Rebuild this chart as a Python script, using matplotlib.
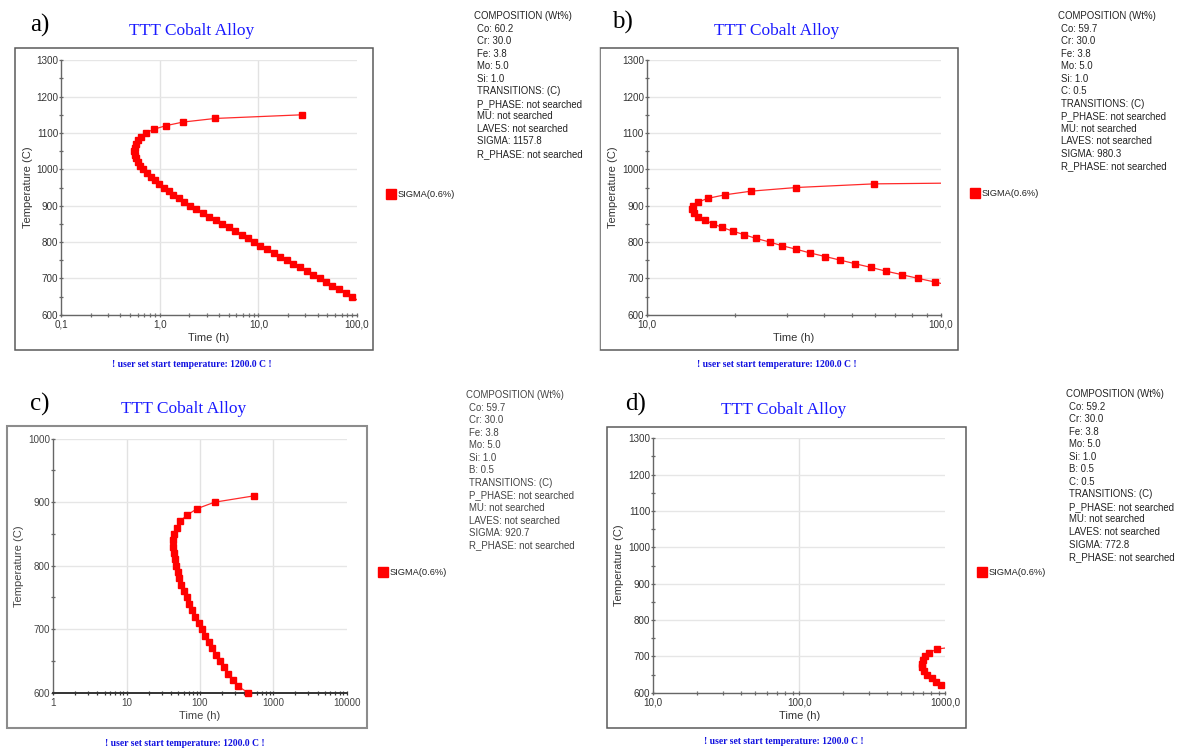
import matplotlib
matplotlib.use("Agg")
import matplotlib.pyplot as plt
from matplotlib.patches import Rectangle
from matplotlib.lines import Line2D
from matplotlib.ticker import (FixedLocator, FixedFormatter, LogLocator,
                               NullFormatter, MultipleLocator)

plt.rcParams["font.family"] = ["Liberation Sans", "DejaVu Sans"]

W, H = 1177, 751

# ---------------- data: sigma (0.6 %) start curves ----------------
TEMP_A = [1150, 1140, 1130, 1120, 1110, 1100, 1090, 1080, 1070, 1060, 1050,
          1040, 1030, 1020, 1010, 1000, 990, 980, 970, 960, 950, 940, 930,
          920, 910, 900, 890, 880, 870, 860, 850, 840, 830, 820, 810, 800,
          790, 780, 770, 760, 750, 740, 730, 720, 710, 700, 690, 680, 670,
          660, 650, 630]
TIME_A = [27.5, 3.65, 1.72, 1.15, 0.87, 0.72, 0.64, 0.60, 0.575, 0.56, 0.555,
          0.56, 0.575, 0.60, 0.635, 0.68, 0.74, 0.81, 0.90, 0.99, 1.10, 1.23,
          1.38, 1.56, 1.77, 2.02, 2.35, 2.74, 3.18, 3.71, 4.32, 5.02, 5.85,
          6.81, 7.93, 9.0, 10.5, 12.3, 14.3, 16.6, 19.5, 22.6, 26.3, 30.9,
          35.9, 41.7, 49.0, 56.2, 66.0, 76.7, 89.0, 115.0]

TEMP_B = [963, 960, 950, 940, 930, 920, 910, 900, 890, 880, 870, 860, 850,
          840, 830, 820, 810, 800, 790, 780, 770, 760, 750, 740, 730, 720,
          710, 700, 690, 680]
TIME_B = [140, 59.3, 32.3, 22.7, 18.5, 16.1, 15.0, 14.4, 14.3, 14.5, 15.0,
          15.8, 16.8, 18.1, 19.6, 21.5, 23.5, 26.2, 28.8, 32.3, 35.9, 40.5,
          45.6, 51.3, 58.0, 65.0, 73.9, 83.7, 95.5, 108]

TEMP_C = [910, 900, 890, 880, 870, 860, 850, 840, 830, 820, 810, 800, 790,
          780, 770, 760, 750, 740, 730, 720, 710, 700, 690, 680, 670, 660,
          650, 640, 630, 620, 610, 600]
TIME_C = [545, 158, 92, 67, 53.4, 48, 44.7, 43.3, 43.3, 44.2, 45.7, 47.1,
          49.6, 52.3, 55.6, 60.5, 65.8, 71.6, 78.6, 86.3, 95.9, 106, 118, 131,
          147, 165, 187, 212, 241, 279, 330, 455]

TEMP_D = [726, 720, 710, 700, 690, 680, 670, 660, 650, 640, 630, 620, 612]
TIME_D = [1150, 873, 777, 726, 699, 689, 692, 718, 753, 805, 859, 929, 1080]

XTICKS_A = [0.1, 1, 10, 100]
XLABELS_A = ["0,1", "1,0", "10,0", "100,0"]
XTICKS_B = [10, 100]
XLABELS_B = ["10,0", "100,0"]
XTICKS_C = [1, 10, 100, 1000, 10000]
XLABELS_C = ["1", "10", "100", "1000", "10000"]
XTICKS_D = [10, 100, 1000]
XLABELS_D = ["10,0", "100,0", "1000,0"]

COMMON_TAIL = ["TRANSITIONS: (C)", "P_PHASE: not searched", "MU: not searched",
               "LAVES: not searched"]
COMP_A = ["Co: 60.2", "Cr: 30.0", "Fe: 3.8", "Mo: 5.0", "Si: 1.0"]
COMP_B = ["Co: 59.7", "Cr: 30.0", "Fe: 3.8", "Mo: 5.0", "Si: 1.0", "C: 0.5"]
COMP_C = ["Co: 59.7", "Cr: 30.0", "Fe: 3.8", "Mo: 5.0", "Si: 1.0", "B: 0.5"]
COMP_D = ["Co: 59.2", "Cr: 30.0", "Fe: 3.8", "Mo: 5.0", "Si: 1.0", "B: 0.5",
          "C: 0.5"]
SIGMA_A, SIGMA_B, SIGMA_C, SIGMA_D = "1157.8", "980.3", "920.7", "772.8"

TITLE = "TTT Cobalt Alloy"
FOOTER = "! user set start temperature: 1200.0 C !"
LEGEND = "SIGMA(0.6%)"

fig = plt.figure(figsize=(W / 100, H / 100), dpi=100)
fig.patch.set_facecolor("white")


def fx(x):
    return x / W


def fy(y):
    return 1 - y / H


def ftext(x, y, s, **kw):
    return fig.text(fx(x), fy(y), s, **kw)


def draw_panel(p):
    # outer frame of the panel
    x0, y0, x1, y1 = p["frame"]
    fig.add_artist(Rectangle((fx(x0), fy(y1)), (x1 - x0) / W, (y1 - y0) / H,
                             transform=fig.transFigure, fill=False,
                             edgecolor=p["frame_color"], lw=p["frame_lw"]))
    # letter and title
    ftext(p["letter_xy"][0], p["letter_xy"][1], p["letter"],
          family="Liberation Serif", fontsize=18, va="center", ha="left")
    ftext(p["title_xy"][0], p["title_xy"][1], TITLE,
          family="Liberation Serif", fontsize=12.5, color="#1a1aff",
          ha="center", va="baseline")
    ftext(p["footer_xy"][0], p["footer_xy"][1], FOOTER,
          family="Liberation Serif", fontsize=6.9, fontweight="bold",
          color="#1010e0", ha="center", va="center")

    # plot area
    a0, b0, a1, b1 = p["axes"]
    ax = fig.add_axes([fx(a0), fy(b1), (a1 - a0) / W, (b1 - b0) / H])
    ax.set_xscale("log")
    ax.set_xlim(p["xlim"])
    ax.set_ylim(p["ylim"])
    ax.patch.set_alpha(0)
    ax.plot(p["time"], p["temp"], color="#ff2a2a", lw=0.9, marker="s",
            ms=4.2, mfc="#ff0000", mec="#ff0000", zorder=3,
            clip_on=p["clip"])

    for s in ("top", "right"):
        ax.spines[s].set_visible(False)
    ax.spines["left"].set_color(p["spine"])
    ax.spines["bottom"].set_color(p["xspine"])
    ax.spines["left"].set_linewidth(1.0)
    ax.spines["bottom"].set_linewidth(p["xspine_lw"])

    ax.yaxis.set_major_locator(MultipleLocator(100))
    ax.yaxis.set_minor_locator(MultipleLocator(50))
    ax.xaxis.set_major_locator(FixedLocator(p["xticks"]))
    ax.xaxis.set_major_formatter(FixedFormatter(p["xlabels"]))
    ax.xaxis.set_minor_locator(LogLocator(base=10, subs=range(2, 10),
                                          numticks=50))
    ax.xaxis.set_minor_formatter(NullFormatter())
    ax.tick_params(which="both", direction="inout", length=3.4, width=0.9,
                   color=p["spine"], labelsize=7.1, labelcolor=p["tick_color"])
    ax.tick_params(axis="x", which="both", color=p["xspine"], pad=1.8)
    ax.tick_params(axis="y", which="both", pad=0.4)

    ax.grid(axis="y", which="major", color="#e6e6e6", lw=1.0, zorder=0)
    for xv in p["xticks"][1:-1]:
        ax.axvline(xv, color="#e2e2e2", lw=1.0, zorder=0)
    ax.set_axisbelow(True)

    # axis titles
    ftext(p["ylabel_x"], (b0 + b1) / 2, "Temperature (C)", fontsize=8,
          color=p["tick_color"], rotation=90, ha="center", va="center")
    ftext((a0 + a1) / 2, p["xlabel_y"], "Time (h)", fontsize=8,
          color=p["tick_color"], ha="center", va="center")

    # legend entry
    lx, ly = p["legend_xy"]
    fig.add_artist(Line2D([fx(lx)], [fy(ly)], marker="s", ms=7.2,
                          color="#ff0000", transform=fig.transFigure))
    ftext(lx + 7, ly + 0.5, LEGEND, fontsize=6.7, color="#222",
          ha="left", va="center")

    # composition block
    cx, cy = p["comp_xy"]
    lines = (["COMPOSITION (Wt%)"] + p["comp"] + COMMON_TAIL
             + ["SIGMA: " + p["sigma"], "R_PHASE: not searched"])
    for i, line in enumerate(lines):
        indent = 0 if i == 0 else 3
        ftext(cx + indent, cy + i * 12.55, line, fontsize=6.9,
              color=p["text_color"], ha="left", va="center")
    return ax


panels = [
    dict(letter="a)", letter_xy=(30, 25), title_xy=(192, 35),
         footer_xy=(192, 365), frame=(15.3, 48.3, 373.3, 350),
         frame_color="#5a5a5a", frame_lw=1.1,
         axes=(61, 60.3, 357, 314.7), xlim=(0.1, 100), ylim=(600, 1300),
         time=TIME_A, temp=TEMP_A, clip=True,
         xticks=XTICKS_A, xlabels=XLABELS_A,
         spine="#666666", xspine="#666666", xspine_lw=1.0,
         tick_color="#333333", text_color="#222222",
         ylabel_x=28, xlabel_y=338, legend_xy=(391, 194),
         comp=COMP_A, sigma=SIGMA_A, comp_xy=(474, 16)),
    dict(letter="b)", letter_xy=(612, 22), title_xy=(777, 35),
         footer_xy=(777, 365), frame=(600, 48.3, 958.3, 350),
         frame_color="#5a5a5a", frame_lw=1.1,
         axes=(646.7, 60.3, 940.7, 314.7), xlim=(10, 100), ylim=(600, 1300),
         time=TIME_B, temp=TEMP_B, clip=True,
         xticks=XTICKS_B, xlabels=XLABELS_B,
         spine="#666666", xspine="#666666", xspine_lw=1.0,
         tick_color="#333333", text_color="#222222",
         ylabel_x=612.7, xlabel_y=338.3, legend_xy=(975, 193),
         comp=COMP_B, sigma=SIGMA_B, comp_xy=(1058, 16)),
    dict(letter="c)", letter_xy=(30, 404), title_xy=(184, 413),
         footer_xy=(185, 743), frame=(6.7, 425.7, 366.7, 728.3),
         frame_color="#8c8c8c", frame_lw=1.5,
         axes=(53.3, 438.7, 346.7, 692.7), xlim=(1, 10000), ylim=(600, 1000),
         time=TIME_C, temp=TEMP_C, clip=False,
         xticks=XTICKS_C, xlabels=XLABELS_C,
         spine="#666666", xspine="#333333", xspine_lw=1.4,
         tick_color="#444444", text_color="#444444",
         ylabel_x=19.3, xlabel_y=716, legend_xy=(383, 572),
         comp=COMP_C, sigma=SIGMA_C, comp_xy=(466, 395)),
    dict(letter="d)", letter_xy=(625, 404), title_xy=(784, 414),
         footer_xy=(784, 742), frame=(607.3, 426.7, 966, 727.7),
         frame_color="#5a5a5a", frame_lw=1.1,
         axes=(653.3, 438.3, 945.3, 692.7), xlim=(10, 1000), ylim=(600, 1300),
         time=TIME_D, temp=TEMP_D, clip=True,
         xticks=XTICKS_D, xlabels=XLABELS_D,
         spine="#666666", xspine="#666666", xspine_lw=1.0,
         tick_color="#333333", text_color="#222222",
         ylabel_x=619.3, xlabel_y=716, legend_xy=(982, 572),
         comp=COMP_D, sigma=SIGMA_D, comp_xy=(1066, 394)),
]

for p in panels:
    draw_panel(p)

# thin separator at the right side of the first panel
fig.add_artist(Line2D([fx(599), fx(599)], [fy(47), fy(350)], color="#dddddd",
                      lw=0.8, transform=fig.transFigure))

fig.savefig("out.png", dpi=100, facecolor="white")
